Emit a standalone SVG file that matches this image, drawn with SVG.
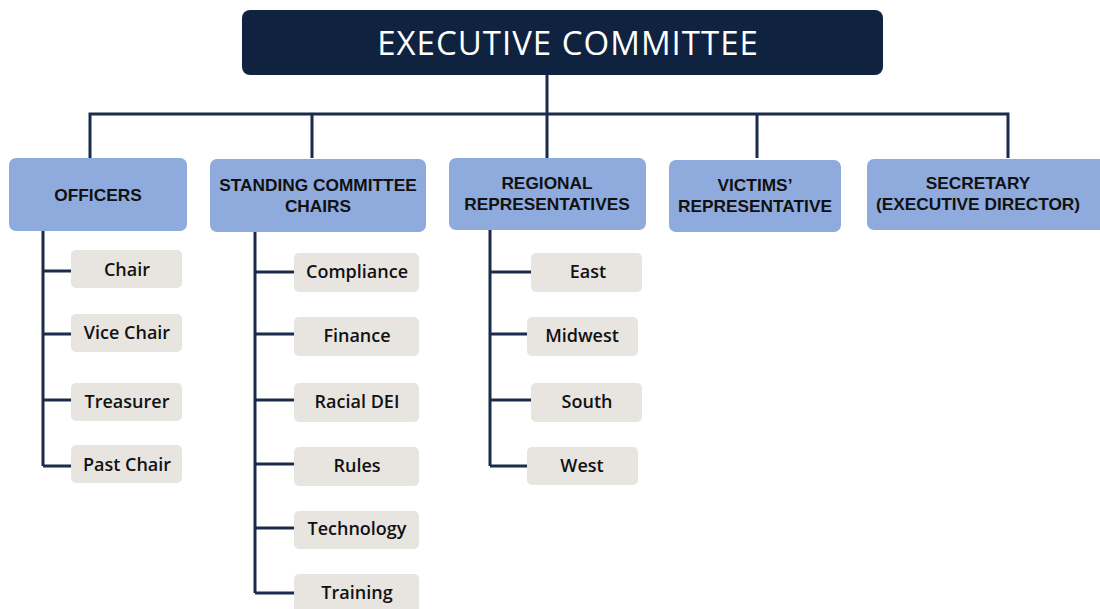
<svg xmlns="http://www.w3.org/2000/svg" width="1100" height="609" viewBox="0 0 1100 609">
<style>
.conn{fill:none;stroke:#1b2c4a;stroke-width:3}
.top{fill:#0f2341}
.cat{fill:#8fabdd}
.leaf{fill:#e8e5e1}
.tt{font-family:"Open Sans","Liberation Sans",sans-serif;font-size:33px;font-weight:500;letter-spacing:1px;fill:#fff;text-anchor:middle}
.ct{font-family:"Liberation Sans",Arial,sans-serif;font-size:17.3px;font-weight:700;fill:#111;text-anchor:middle}
.lt{font-family:"Open Sans","Liberation Sans",sans-serif;font-size:18px;font-weight:600;fill:#111;text-anchor:middle}
</style>
<rect width="1100" height="609" fill="#fff"/>
<g id="connectors">
<path class="conn" d="M547 75V114M90 158V114H1008V158M312 114V158M547 114V158M757 114V158"/>
<path class="conn" d="M43 231V466M43 271H71M43 334H71M43 400H71M43 466H71"/>
<path class="conn" d="M255 232V593M255 272H294M255 334H294M255 400H294M255 464H294M255 528H294M255 593H294"/>
<path class="conn" d="M490 230V466M490 272H531M490 334H527M490 400H531M490 466H527"/>
</g>
<g id="executive-committee"><rect class="top" x="242" y="10" width="641" height="65" rx="8"/><text class="tt" x="568" y="55">EXECUTIVE COMMITTEE</text></g>
<g id="officers"><rect class="cat" x="9" y="158" width="178" height="73" rx="7"/><text class="ct" x="98" y="201">OFFICERS</text></g>
<g id="standing"><rect class="cat" x="210" y="159" width="216" height="73" rx="7"/><text class="ct" x="318" y="191">STANDING COMMITTEE</text><text class="ct" x="318" y="212">CHAIRS</text></g>
<g id="regional"><rect class="cat" x="449" y="158" width="197" height="72" rx="7"/><text class="ct" x="547" y="189">REGIONAL</text><text class="ct" x="547" y="210">REPRESENTATIVES</text></g>
<g id="victims"><rect class="cat" x="669" y="160" width="172" height="72" rx="7"/><text class="ct" x="755" y="191">VICTIMS’</text><text class="ct" x="755" y="212">REPRESENTATIVE</text></g>
<g id="secretary"><rect class="cat" x="867" y="159" width="245" height="71" rx="7"/><text class="ct" x="978" y="189">SECRETARY</text><text class="ct" x="978" y="210">(EXECUTIVE DIRECTOR)</text></g>
<g id="chair"><rect class="leaf" x="71" y="250" width="111" height="38" rx="5"/><text class="lt" x="127" y="276">Chair</text></g>
<g id="vice-chair"><rect class="leaf" x="71" y="314" width="111" height="38" rx="5"/><text class="lt" x="127" y="339">Vice Chair</text></g>
<g id="treasurer"><rect class="leaf" x="71" y="383" width="111" height="38" rx="5"/><text class="lt" x="127" y="408">Treasurer</text></g>
<g id="past-chair"><rect class="leaf" x="71" y="445" width="111" height="38" rx="5"/><text class="lt" x="127" y="471">Past Chair</text></g>
<g id="compliance"><rect class="leaf" x="294" y="253" width="125" height="39" rx="5"/><text class="lt" x="357" y="278">Compliance</text></g>
<g id="finance"><rect class="leaf" x="294" y="317" width="125" height="39" rx="5"/><text class="lt" x="357" y="342">Finance</text></g>
<g id="racial-dei"><rect class="leaf" x="294" y="383" width="125" height="39" rx="5"/><text class="lt" x="357" y="408">Racial DEI</text></g>
<g id="rules"><rect class="leaf" x="294" y="447" width="125" height="39" rx="5"/><text class="lt" x="357" y="472">Rules</text></g>
<g id="technology"><rect class="leaf" x="294" y="511" width="125" height="38" rx="5"/><text class="lt" x="357" y="535">Technology</text></g>
<g id="training"><rect class="leaf" x="294" y="574" width="125" height="40" rx="5"/><text class="lt" x="357" y="599">Training</text></g>
<g id="east"><rect class="leaf" x="531" y="253" width="111" height="39" rx="5"/><text class="lt" x="588" y="278">East</text></g>
<g id="midwest"><rect class="leaf" x="527" y="317" width="111" height="39" rx="5"/><text class="lt" x="582" y="342">Midwest</text></g>
<g id="south"><rect class="leaf" x="531" y="383" width="111" height="39" rx="5"/><text class="lt" x="587" y="408">South</text></g>
<g id="west"><rect class="leaf" x="527" y="447" width="111" height="38" rx="5"/><text class="lt" x="582" y="472">West</text></g>
</svg>
